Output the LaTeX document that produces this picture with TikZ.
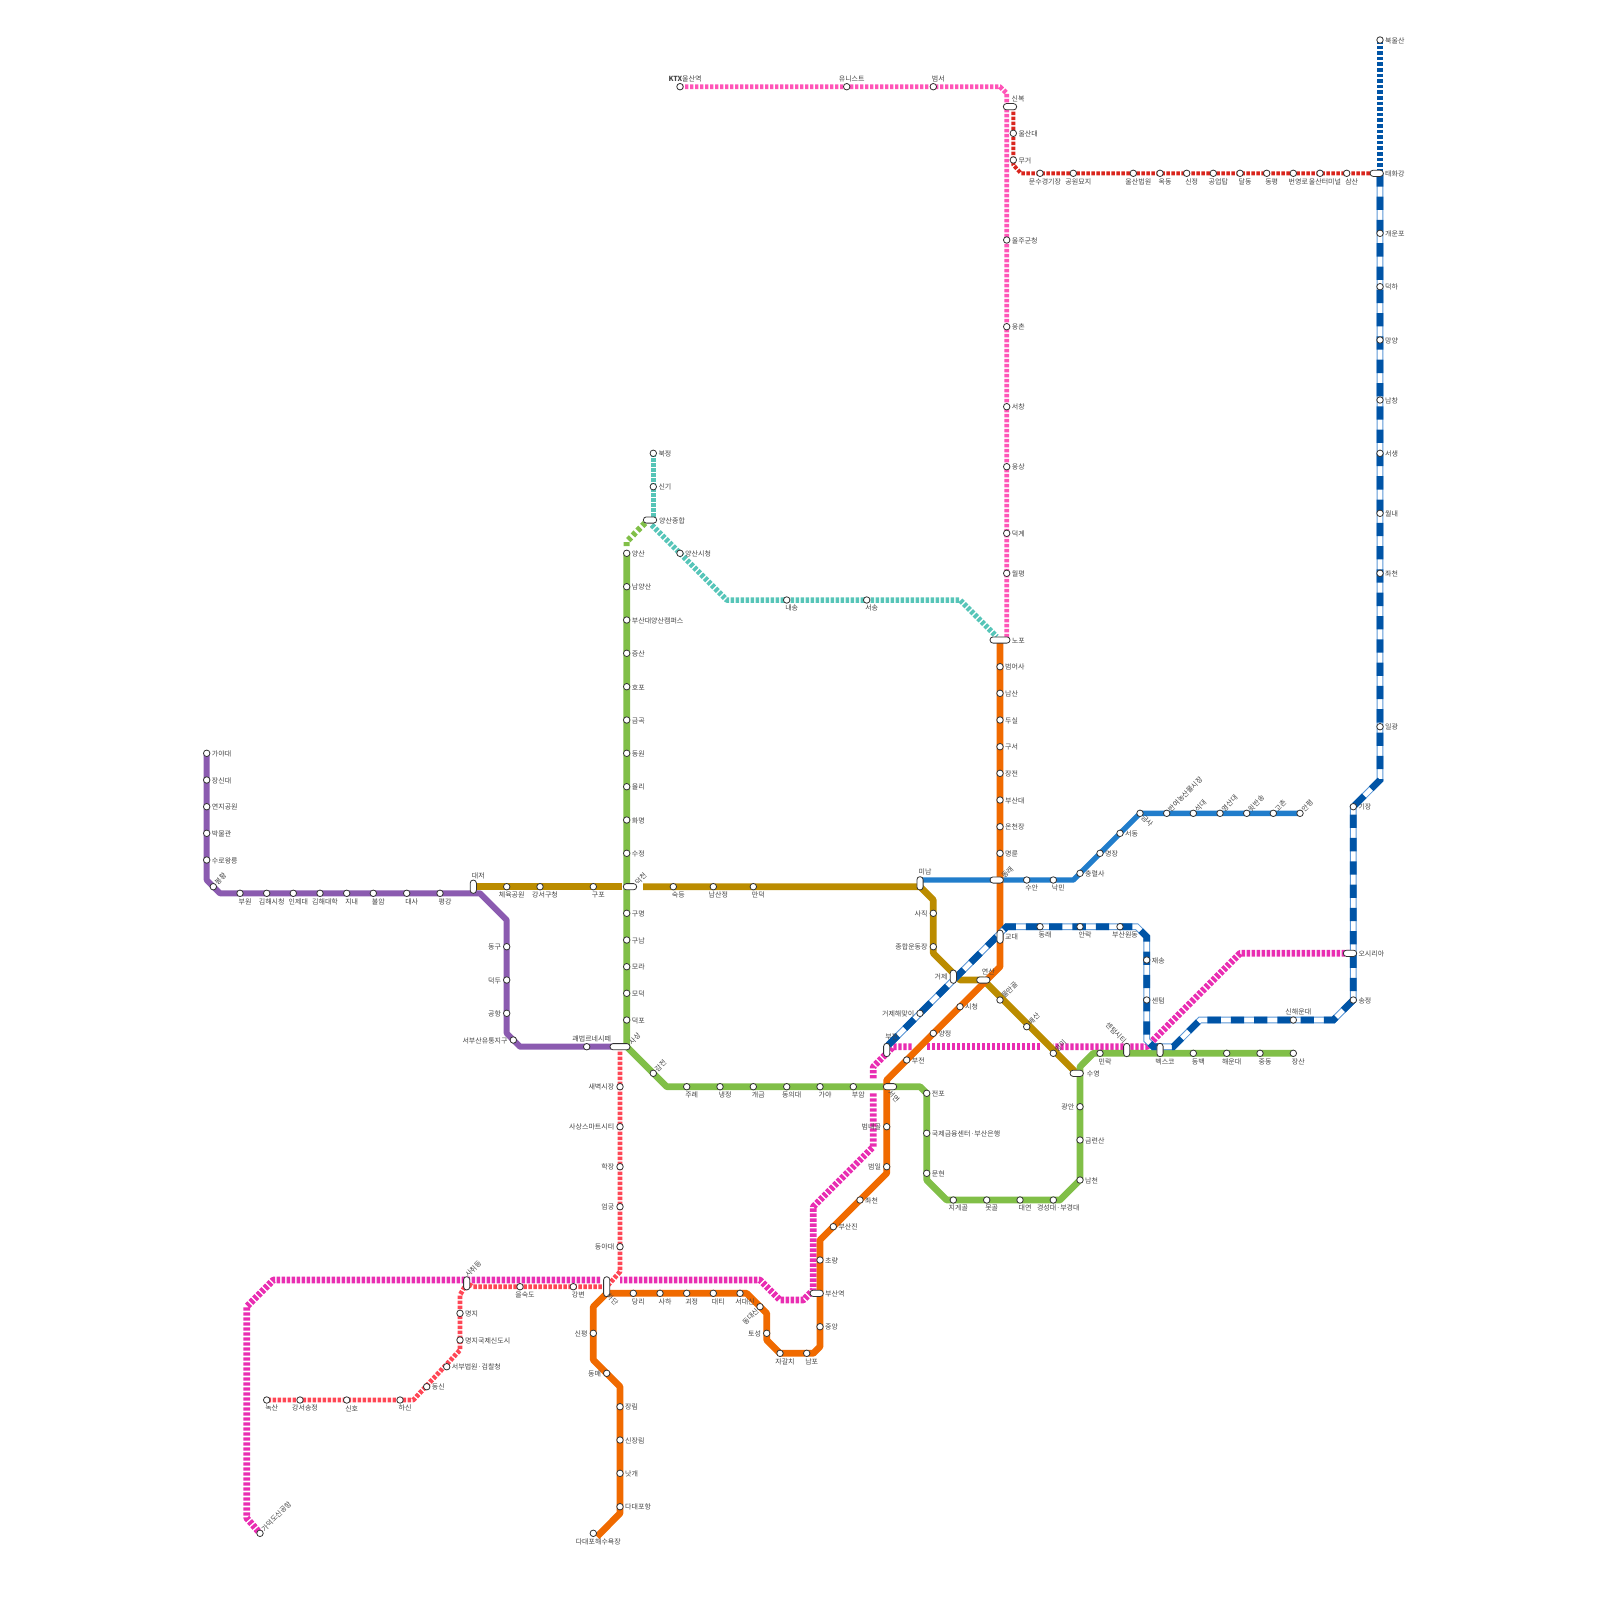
\documentclass[tikz,border=0pt]{standalone}
\usepackage{fontspec}
\setmainfont{Noto Sans CJK KR}
\usetikzlibrary{backgrounds}
\definecolor{cpurple}{HTML}{8B5BB0}
\definecolor{cbrown}{HTML}{BB8C00}
\definecolor{cgreen}{HTML}{81BF48}
\definecolor{corange}{HTML}{F06A00}
\definecolor{cblue}{HTML}{217DCB}
\definecolor{cdh}{HTML}{0054A6}
\definecolor{cdhedge}{HTML}{5A96D6}
\definecolor{cmag}{HTML}{E92DB2}
\definecolor{ccoral}{HTML}{FF4655}
\definecolor{cred}{HTML}{D9251D}
\definecolor{cpink}{HTML}{FF55B8}
\definecolor{cteal}{HTML}{56C5B8}
\definecolor{ctext}{HTML}{444444}
\pgfdeclarelayer{fg}
\pgfsetlayers{main,fg}
\tikzset{
  stn/.style={circle,draw=black!80,fill=white,line width=.8pt,minimum size=6.5pt,inner sep=0pt},
  pillbase/.style={rectangle,rounded corners=3pt,draw=black!80,fill=white,line width=.8pt,inner sep=0pt},
  pillh/.style={pillbase,minimum width=13.3pt,minimum height=6.2pt},
  pillv/.style={pillbase,minimum width=6.2pt,minimum height=13.3pt},
  pillhl/.style={pillbase,minimum width=20pt,minimum height=6.2pt},
  pillvl/.style={pillbase,minimum width=6.2pt,minimum height=20pt},
  lbl/.style={inner sep=0pt,text=ctext,font=\fontsize{7}{8}\selectfont},
  pR/.style={anchor=west,xshift=5pt,yshift=-.6pt},
  pL/.style={anchor=east,xshift=-5.5pt,yshift=-.6pt},
  pB/.style={xshift=5pt,yshift=-8.3pt},
  pA/.style={xshift=5pt,yshift=8.3pt},
  pNE/.style={xshift=2.5pt,yshift=3pt,anchor=west,rotate=45},
  pSE/.style={xshift=2.5pt,yshift=-3pt,anchor=west,rotate=-45},
  pSW/.style={xshift=-2.5pt,yshift=-3pt,anchor=east,rotate=45},
  pNW/.style={xshift=-1.5pt,yshift=8pt,anchor=east,rotate=-45},
  solidline/.style={line width=6.67pt,line join=bevel},
  thindash/.style={line width=#1,line join=bevel,dash pattern=on 3.4pt off 1.6pt},
  mline/.style={thindash=6.67pt,draw=cmag},
  pline/.style={thindash=4.8pt,draw=cpink},
  cline/.style={thindash=4.8pt,draw=ccoral},
  rline/.style={thindash=4pt,draw=cred},
  tline/.style={thindash=5.5pt,draw=cteal},
  gdash/.style={line width=6pt,line join=bevel,dash pattern=on 4pt off 2.67pt,draw=cgreen},
  dhfine/.style={line width=6.67pt,dash pattern=on 3.6pt off 2pt,draw=cdh},
  dhmain/.style={preaction={draw=cdhedge,solid,line width=6.67pt},
    preaction={draw=white,solid,line width=4.6pt},
    draw=cdh,line width=6.67pt,dash pattern=on 13.3pt off 10pt},
}
\newcommand\st[5]{\node[stn] (#1) at (#2,#3) {};\node[lbl,#4] (#1t) at (#1.center) {#5};}
\newcommand\ph[6]{\node[#4] (#1) at (#2,#3) {};\node[lbl,#5] (#1t) at (#1.center) {#6};}
\begin{document}
\begin{tikzpicture}[x=1pt,y=-1pt]
\useasboundingbox (0,0) rectangle (1600,1600);
\begin{pgfonlayer}{fg}
% purple
\st{gaya}{206.7}{753.3}{pR}{가야대}
\st{jangsin}{206.7}{780}{pR}{장신대}
\st{yeonji}{206.7}{806.7}{pR}{연지공원}
\st{bakmul}{206.7}{833.3}{pR}{박물관}
\st{suro}{206.7}{860}{pR}{수로왕릉}
\st{bonghwang}{213.3}{886.7}{pNE}{봉황}
\st{buwon}{240}{893.3}{pB}{부원}
\st{gimhaesi}{266.7}{893.3}{pB}{김해시청}
\st{inje}{293.3}{893.3}{pB}{인제대}
\st{gimhaedae}{320}{893.3}{pB}{김해대학}
\st{jinae}{346.7}{893.3}{pB}{지내}
\st{buram}{373.3}{893.3}{pB}{불암}
\st{daesa}{406.7}{893.3}{pB}{대사}
\st{pyeonggang}{440}{893.3}{pB}{평강}
\ph{daejeo}{473.3}{886.7}{pillv}{pA,yshift=2.5pt}{대저}
\st{donggu}{506.7}{946.7}{pL}{동구}
\st{deokdu}{506.7}{980}{pL}{덕두}
\st{gonghang}{506.7}{1013.3}{pL}{공항}
\st{seobu}{513.3}{1040}{pL}{서부산유통지구}
\st{gwaebeop}{586.7}{1046.7}{pA}{괘법르네시떼}
\ph{sasang}{620}{1046.7}{pillhl}{xshift=10pt,yshift=3pt,anchor=west,rotate=45}{사상}
% brown
\st{chewuk}{506.7}{886.7}{pB}{체육공원}
\st{gangseo}{540}{886.7}{pB}{강서구청}
\st{gupo}{593.3}{886.7}{pB}{구포}
\ph{deokcheon}{630}{886.7}{pillh}{xshift=6pt,yshift=3pt,anchor=west,rotate=45}{덕천}
\st{sukdeung}{673.3}{886.7}{pB}{숙등}
\st{namsanj}{713.3}{886.7}{pB}{남산정}
\st{mandeok}{753.3}{886.7}{pB}{만덕}
\ph{minam}{920}{883.3}{pillv}{pA,yshift=3pt}{미남}
\st{sajik}{933.3}{913.3}{pL}{사직}
\st{jonghap}{933.3}{946.7}{pL}{종합운동장}
\ph{geoje}{953.3}{976.7}{pillv}{pL}{거제}
\ph{yeonsan}{983.3}{980}{pillh}{pA}{연산}
\st{mulman}{1000}{1000}{pNE}{물만골}
\st{baesan}{1026.7}{1026.7}{pNE}{배산}
\st{mangmi}{1053.3}{1053.3}{pNE}{망미}
\ph{suyeong}{1076.7}{1073.3}{pillh}{pR,xshift=5pt}{수영}
% green 2
\st{yangsan}{626.7}{553.3}{pR}{양산}
\st{namyang}{626.7}{586.7}{pR}{남양산}
\st{pnuy}{626.7}{620}{pR}{부산대양산캠퍼스}
\st{jeungsan}{626.7}{653.3}{pR}{증산}
\st{hopo}{626.7}{686.7}{pR}{호포}
\st{geumgok}{626.7}{720}{pR}{금곡}
\st{dongwon}{626.7}{753.3}{pR}{동원}
\st{yulli}{626.7}{786.7}{pR}{율리}
\st{hwamyeong}{626.7}{820}{pR}{화명}
\st{sujeong}{626.7}{853.3}{pR}{수정}
\st{gumyeong}{626.7}{913.3}{pR}{구명}
\st{gunam}{626.7}{940}{pR}{구남}
\st{mora}{626.7}{966.7}{pR}{모라}
\st{modeok}{626.7}{993.3}{pR}{모덕}
\st{deokpo}{626.7}{1020}{pR}{덕포}
\st{gamjeon}{653.3}{1073.3}{pNE}{감전}
\st{jurye}{686.7}{1086.7}{pB}{주례}
\st{naengjeong}{720}{1086.7}{pB}{냉정}
\st{gaegeum}{753.3}{1086.7}{pB}{개금}
\st{dongui}{786.7}{1086.7}{pB}{동의대}
\st{gayaa}{820}{1086.7}{pB}{가야}
\st{buam}{853.3}{1086.7}{pB}{부암}
\ph{seomyeon}{890}{1086.7}{pillh}{xshift=-1pt,yshift=-5pt,anchor=west,rotate=-45}{서면}
\st{jeonpo}{926.7}{1093.3}{pR}{전포}
\st{gukje}{926.7}{1133.3}{pR}{국제금융센터·부산은행}
\st{munhyeon}{926.7}{1173.3}{pR}{문현}
\st{jigegol}{953.3}{1200}{pB}{지게골}
\st{motgol}{986.7}{1200}{pB}{못골}
\st{daeyeon}{1020}{1200}{pB}{대연}
\st{kyungsung}{1053.3}{1200}{pB}{경성대·부경대}
\st{namcheon}{1080}{1180}{pR}{남천}
\st{geumnyeon}{1080}{1140}{pR}{금련산}
\st{gwangan}{1080}{1106.7}{pL}{광안}
\st{millak}{1100}{1053.3}{pB}{민락}
\ph{centum}{1126.7}{1050}{pillv}{pNW}{센텀시티}
\ph{bexco}{1160}{1050}{pillv}{pB,yshift=-3.3pt}{벡스코}
\st{dongbaek}{1193.3}{1053.3}{pB}{동백}
\st{haeundae}{1226.7}{1053.3}{pB}{해운대}
\st{jungdong}{1260}{1053.3}{pB}{중동}
\st{jangsan}{1293.3}{1053.3}{pB}{장산}
% orange
\ph{nopo}{1000}{640}{pillhl}{pR,xshift=6.7pt}{노포}
\st{beomeo}{1000}{666.7}{pR}{범어사}
\st{namsan}{1000}{693.3}{pR}{남산}
\st{dusil}{1000}{720}{pR}{두실}
\st{guseo}{1000}{746.7}{pR}{구서}
\st{jangjeon}{1000}{773.3}{pR}{장전}
\st{pnu}{1000}{800}{pR}{부산대}
\st{oncheon}{1000}{826.7}{pR}{온천장}
\st{myeongnyun}{1000}{853.3}{pR}{명륜}
\ph{dongnae}{996.7}{880}{pillh}{xshift=6pt,yshift=3pt,anchor=west,rotate=45}{동래}
\ph{gyodae}{1000}{936.7}{pillv}{pR}{교대}
\st{sicheong}{960}{1006.7}{pR}{시청}
\st{yangjeong}{933.3}{1033.3}{pR}{양정}
\st{bujeon}{906.7}{1060}{pR}{부전}
\st{beomnae}{886.7}{1126.7}{pL}{범내골}
\st{beomil}{886.7}{1166.7}{pL}{범일}
\st{jwacheon}{860}{1200}{pR}{좌천}
\st{busanjin}{833.3}{1226.7}{pR}{부산진}
\st{choryang}{820}{1260}{pR}{초량}
\ph{busanst}{816.7}{1293.3}{pillh}{pR,xshift=3.3pt}{부산역}
\st{jungang}{820}{1326.7}{pR}{중앙}
\st{nampo}{806.7}{1353.3}{pB}{남포}
\st{jagalchi}{780}{1353.3}{pB}{자갈치}
\st{toseong}{766.7}{1333.3}{pL}{토성}
\st{dongdaesin}{760}{1306.7}{pSW}{동대신}
\st{seodaesin}{740}{1293.3}{pB}{서대신}
\st{daeti}{713.3}{1293.3}{pB}{대티}
\st{goejeong}{686.7}{1293.3}{pB}{괴정}
\st{saha}{660}{1293.3}{pB}{사하}
\st{dangni}{633.3}{1293.3}{pB}{당리}
\ph{hadan}{606.7}{1286.7}{pillvl}{xshift=1pt,yshift=-8pt,anchor=west,rotate=-45}{하단}
\st{sinpyeong}{593.3}{1333.3}{pL}{신평}
\st{dongmae}{606.7}{1373.3}{pL}{동매}
\st{jangnim}{620}{1406.7}{pR}{장림}
\st{sinjangnim}{620}{1440}{pR}{신장림}
\st{nakgae}{620}{1473.3}{pR}{낫개}
\st{dadaepo}{620}{1506.7}{pR}{다대포항}
\st{dadaebeach}{593.3}{1533.3}{pB}{다대포해수욕장}
% blue 4
\st{suan}{1026.7}{880}{pB}{수안}
\st{nakmin}{1053.3}{880}{pB}{낙민}
\st{chungnyeol}{1080}{873.3}{pR}{충렬사}
\st{myeongjang}{1100}{853.3}{pR}{명장}
\st{seodong}{1120}{833.3}{pR}{서동}
\st{geumsa}{1140}{813.3}{pSE}{금사}
\st{banyeo}{1166.7}{813.3}{pNE}{반여농산물시장}
\st{seokdae}{1193.3}{813.3}{pNE}{석대}
\st{yeongsan}{1220}{813.3}{pNE}{영산대}
\st{banson}{1246.7}{813.3}{pNE}{윗반송}
\st{gochon}{1273.3}{813.3}{pNE}{고촌}
\st{anpyeong}{1300}{813.3}{pNE}{안평}
% donghae
\st{bukulsan}{1380}{40}{pR}{북울산}
\ph{taehwa}{1376.7}{173.3}{pillh}{pR,xshift=3.3pt}{태화강}
\st{gaeunpo}{1380}{233.3}{pR}{개운포}
\st{deokha}{1380}{286.7}{pR}{덕하}
\st{mangyang}{1380}{340}{pR}{망양}
\st{namchang}{1380}{400}{pR}{남창}
\st{seosaeng}{1380}{453.3}{pR}{서생}
\st{wollae}{1380}{513.3}{pR}{월내}
\st{jwacheonb}{1380}{573.3}{pR}{좌천}
\st{ilgwang}{1380}{726.7}{pR}{일광}
\st{gijang}{1353.3}{806.7}{pR}{기장}
\ph{osiria}{1350}{953.3}{pillh}{pR,xshift=3.3pt}{오시리아}
\st{songjeong}{1353.3}{1000}{pR}{송정}
\st{sinhaeundae}{1293.3}{1020}{pA}{신해운대}
\st{jaesong}{1146.7}{960}{pR}{재송}
\st{centumb}{1146.7}{1000}{pR}{센텀}
\st{wondong}{1120}{926.7}{pB}{부산원동}
\st{allak}{1080}{926.7}{pB}{안락}
\st{dongnaeb}{1040}{926.7}{pB}{동래}
\st{haemaji}{920}{1013.3}{pL}{거제해맞이}
\ph{bujeonb}{886.7}{1050}{pillv}{pA,yshift=4.5pt}{부전}
% magenta
\st{gadeok}{260}{1533.3}{pNE}{가덕도신공항}
% coral
\ph{sachwi}{466.7}{1283.3}{pillv}{pNE,xshift=1pt,yshift=5pt}{사취등}
\st{saebyeok}{620}{1086.7}{pL}{새벽시장}
\st{smart}{620}{1126.7}{pL}{사상스마트시티}
\st{hakjang}{620}{1166.7}{pL}{학장}
\st{eomgung}{620}{1206.7}{pL}{엄궁}
\st{donga}{620}{1246.7}{pL}{동아대}
\st{gangbyeon}{573.3}{1286.7}{pB}{강변}
\st{eulsuk}{520}{1286.7}{pB}{을숙도}
\st{myeongji}{460}{1313.3}{pR}{명지}
\st{myeongjig}{460}{1340}{pR}{명지국제신도시}
\st{seobubeop}{446.7}{1366.7}{pR}{서부법원·검찰청}
\st{dongsin}{426.7}{1386.7}{pR}{동신}
\st{hasin}{400}{1400}{pB}{하신}
\st{sinho}{346.7}{1400}{pB}{신호}
\st{songjeongb}{300}{1400}{pB}{강서송정}
\st{noksan}{266.7}{1400}{pB}{녹산}
% pink
\st{ktx}{680}{86.7}{pA}{{\bfseries KTX}울산역}
\st{unist}{846.7}{86.7}{pA}{유니스트}
\st{beomseo}{933.3}{86.7}{pA}{범서}
\st{uljugun}{1006.7}{240}{pR}{울주군청}
\st{ungchon}{1006.7}{326.7}{pR}{웅촌}
\st{seochang}{1006.7}{406.7}{pR}{서창}
\st{ungsang}{1006.7}{466.7}{pR}{웅상}
\st{deokgye}{1006.7}{533.3}{pR}{덕계}
\st{wolpyeong}{1006.7}{573.3}{pR}{월평}
% red
\ph{sinbok}{1010}{106.7}{pillh}{pA,xshift=3pt}{신복}
\st{ulsandae}{1013.3}{133.3}{pR}{울산대}
\st{mugeo}{1013.3}{160}{pR}{무거}
\st{munsu}{1040}{173.3}{pB}{문수경기장}
\st{gongwon}{1073.3}{173.3}{pB}{공원묘지}
\st{beobwon}{1133.3}{173.3}{pB}{울산법원}
\st{okdong}{1160}{173.3}{pB}{옥동}
\st{sinjeong}{1186.7}{173.3}{pB}{신정}
\st{gongeop}{1213.3}{173.3}{pB}{공업탑}
\st{daldong}{1240}{173.3}{pB}{달동}
\st{dongpyeong}{1266.7}{173.3}{pB}{동평}
\st{beonyeong}{1293.3}{173.3}{pB}{번영로}
\st{terminal}{1320}{173.3}{pB}{울산터미널}
\st{samsan}{1346.7}{173.3}{pB}{삼산}
% teal
\st{bukjeong}{653.3}{453.3}{pR}{북정}
\st{singi}{653.3}{486.7}{pR}{신기}
\ph{yangsanj}{650}{520}{pillh}{pR,xshift=4pt}{양산종합}
\st{yangsansi}{680}{553.3}{pR}{양산시청}
\st{naesong}{786.7}{600}{pB}{내송}
\st{seosong}{866.7}{600}{pB}{서송}
\end{pgfonlayer}
% bend points
\coordinate (pa) at (206.7,880); \coordinate (pb) at (220,893.3);
\coordinate (pc) at (480,893.3); \coordinate (pd) at (506.7,920);
\coordinate (pe) at (506.7,1033.3); \coordinate (pf) at (520,1046.7);
\coordinate (ga) at (626.7,1046.7); \coordinate (gb) at (666.7,1086.7);
\coordinate (gc) at (920,1086.7); \coordinate (gd) at (926.7,1093.3);
\coordinate (ge) at (926.7,1180); \coordinate (gf) at (946.7,1200);
\coordinate (gg) at (1060,1200); \coordinate (gh) at (1080,1180);
\coordinate (gi) at (1080,1066.7); \coordinate (gj) at (1093.3,1053.3);
\coordinate (oa) at (1000,966.7); \coordinate (ob) at (886.7,1080);
\coordinate (oc) at (886.7,1173.3); \coordinate (od) at (820,1240);
\coordinate (oe) at (820,1346.7); \coordinate (of) at (813.3,1353.3);
\coordinate (og) at (780,1353.3); \coordinate (oh) at (766.7,1340);
\coordinate (oi) at (766.7,1313.3); \coordinate (oj) at (746.7,1293.3);
\coordinate (ok) at (606.7,1293.3); \coordinate (ol) at (593.3,1306.7);
\coordinate (om) at (593.3,1360); \coordinate (on) at (620,1386.7);
\coordinate (oo) at (620,1513.3); \coordinate (op) at (597,1536.7);
\coordinate (ba) at (621.7,886.7); \coordinate (bb) at (643,886.7);
\coordinate (bc) at (920,886.7); \coordinate (bd) at (933.3,900);
\coordinate (be) at (933.3,953.3); \coordinate (bf) at (960,980);
\coordinate (ua) at (920,880); \coordinate (ub) at (1073.3,880);
\coordinate (da) at (1380,173.3); \coordinate (db) at (1380,780);
\coordinate (dc) at (1353.3,1000); \coordinate (dd) at (1333.3,1020);
\coordinate (de) at (1200,1020); \coordinate (df) at (1173.3,1046.7);
\coordinate (dg) at (1153.3,1046.7); \coordinate (dh) at (1146.7,1040);
\coordinate (di) at (1146.7,936.7); \coordinate (dj) at (1136.7,926.7);
\coordinate (dk) at (1006.7,926.7); \coordinate (dl) at (886.7,1046.7);
\coordinate (ma) at (1240,953.3); \coordinate (mb) at (1146.7,1046.7);
\coordinate (mc) at (1053.3,1046.7); \coordinate (md) at (1040,1046.7);
\coordinate (me) at (926.7,1046.7); \coordinate (mf) at (911.7,1046.7);
\coordinate (mg) at (893.3,1046.7); \coordinate (mh) at (873.3,1066.7);
\coordinate (mi) at (873.3,1080); \coordinate (mj) at (873.3,1093.3);
\coordinate (mk) at (873.3,1146.7); \coordinate (ml) at (813.3,1206.7);
\coordinate (mm) at (813.3,1290); \coordinate (mn) at (803.3,1300);
\coordinate (mo) at (780,1300); \coordinate (mp) at (760,1280);
\coordinate (mq) at (620,1280); \coordinate (mr) at (600,1280);
\coordinate (ms) at (273.3,1280); \coordinate (mt) at (246.7,1306.7);
\coordinate (mu) at (246.7,1518);
\coordinate (ca) at (620,1271.7); \coordinate (cb) at (606.7,1286.7);
\coordinate (cc) at (460,1295); \coordinate (cd) at (460,1350);
\coordinate (ce) at (413.3,1400); \coordinate (cf) at (473,1286.7);
\coordinate (ia) at (1000,86.7); \coordinate (ib) at (1006.7,93.3);
\coordinate (ic) at (1006.7,637);
\coordinate (ra) at (1013.3,106.7); \coordinate (rb) at (1013.3,165);
\coordinate (rc) at (1021,173.3); \coordinate (rd) at (1370,173.3);
\coordinate (ta) at (653.3,520); \coordinate (tb) at (651.7,525);
\coordinate (tc) at (726.7,600); \coordinate (td) at (960,600);
\coordinate (te) at (996.7,636.7);
\coordinate (va) at (645,523); \coordinate (vb) at (626.7,541.7);
\coordinate (vc) at (626.7,547);
% dashed lines under the solid ones
\draw[mline] (osiria.center) -- (ma) -- (mb) -- (mc);
\draw[mline] (md) -- (me);
\draw[mline] (mf) -- (mg) -- (mh) -- (mi);
\draw[mline] (mj) -- (mk) -- (ml) -- (mm) -- (mn) -- (mo) -- (mp) -- (mq);
\draw[mline] (mr) -- (ms) -- (mt) -- (mu) -- (gadeok.center);
\draw[cline] (sasang.center) -- (ca) -- (cb) -- (cf) -- (sachwi.center) -- (cc) -- (cd) -- (ce) -- (noksan.center);
\draw[pline] (ktx.center) -- (ia) -- (ib) -- (ic);
\draw[rline] (ra) -- (rb) -- (rc) -- (rd);
\draw[tline] (bukjeong.center) -- (ta);
\draw[tline] (tb) -- (tc) -- (td) -- (te);
\draw[gdash] (va) -- (vb) -- (vc);
% solid lines
\draw[solidline,draw=cpurple,line width=6pt] (gaya.center) -- (pa) -- (pb) -- (pc) -- (pd) -- (pe) -- (pf) -- (sasang.center);
\draw[solidline,draw=cbrown] (daejeo.center) -- (ba);
\draw[solidline,draw=cbrown] (bb) -- (bc) -- (bd) -- (be) -- (bf) -- (yeonsan.center) -- (suyeong.center);
\draw[solidline,draw=cgreen] (yangsan.center) -- (ga) -- (gb) -- (gc) -- (gd) -- (ge) -- (gf) -- (gg) -- (gh) -- (gi) -- (gj) -- (jangsan.center);
\draw[solidline,draw=cblue,line width=5.4pt] (ua) -- (ub) -- (geumsa.center) -- (anpyeong.center);
\draw[solidline,draw=corange] (nopo.center) -- (oa) -- (ob) -- (oc) -- (od) -- (oe) -- (of) -- (og) -- (oh) -- (oi) -- (oj) -- (ok) -- (ol) -- (om) -- (on) -- (oo) -- (op);
% Donghae line above all
\draw[dhfine] (bukulsan.center) -- (da);
\draw[dhmain] (da) -- (db) -- (gijang.center) -- (dc) -- (dd) -- (de) -- (df) -- (dg) -- (dh) -- (di) -- (dj) -- (dk) -- (dl);
\end{tikzpicture}
\end{document}
